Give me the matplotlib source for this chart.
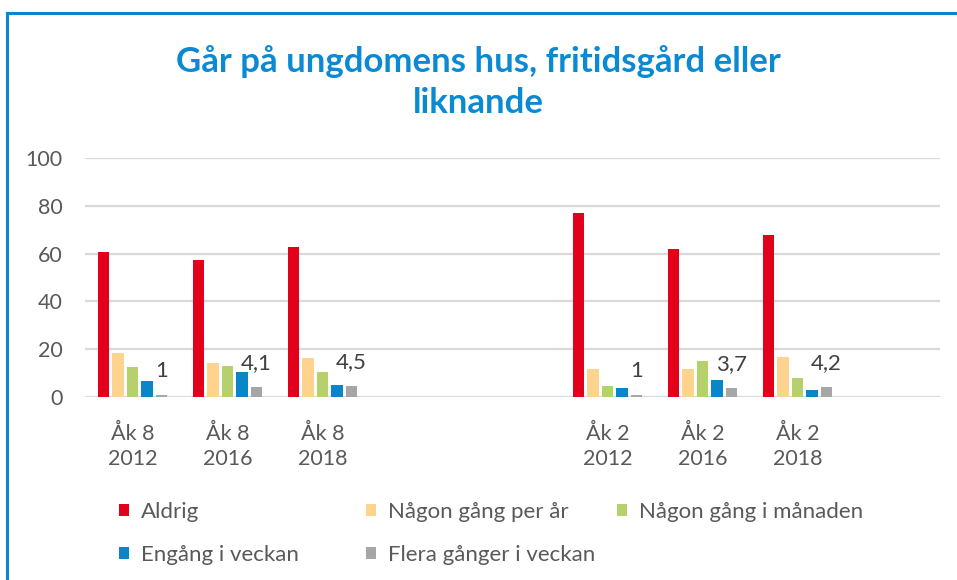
import matplotlib
matplotlib.use("Agg")
import matplotlib.pyplot as plt
import numpy as np
from matplotlib.patches import Patch
from matplotlib.lines import Line2D

plt.rcParams['font.family'] = ['Lato', 'DejaVu Sans']

# Categories (empty slots keep the gap between the two school years)
categories = ["Åk 8\n2012", "Åk 8\n2016", "Åk 8\n2018", "", "",
              "Åk 2\n2012", "Åk 2\n2016", "Åk 2\n2018", ""]

series_names = ["Aldrig", "Någon gång per år", "Någon gång i månaden",
                "Engång i veckan", "Flera gånger i veckan"]
series_colors = ["#E2001A", "#FDD38E", "#B6D16B", "#0A86C8", "#A6A6A6"]

nan = np.nan
aldrig = [60.5, 57.3, 62.9, nan, nan, 77, 61.9, 67.9, nan]
per_ar = [18.3, 14.1, 16.2, nan, nan, 11.7, 11.7, 16.6, nan]
manaden = [12.5, 13.1, 10.3, nan, nan, 4.8, 15.1, 7.9, nan]
engang = [6.5, 10.3, 4.9, nan, nan, 3.7, 7.3, 3.1, nan]
flera = [1, 4.1, 4.5, nan, nan, 1, 3.7, 4.2, nan]

values = [aldrig, per_ar, manaden, engang, flera]

text_gray = "#595959"
grid_gray = "#D9D9D9"
title_blue = "#0A8AD2"

fig = plt.figure(figsize=(9.57, 5.8), dpi=100)
ax = fig.add_axes([85 / 957, 1 - 397 / 580, 855 / 957, 239 / 580])

x = np.arange(len(categories))
bar_w = 0.123
step = 0.153
for i, (vals, color) in enumerate(zip(values, series_colors)):
    ax.bar(x + (i - 2) * step, vals, width=bar_w, color=color, zorder=3)

# data labels on the last series only
for xi, v in zip(x, flera):
    if np.isnan(v):
        continue
    txt = f"{v:g}".replace(".", ",")
    ax.annotate(txt, (xi + 2 * step, v), xytext=(0, 13), textcoords="offset points",
                ha="center", va="baseline", fontsize=16, color="#404040")

ax.set_xlim(-0.5, len(categories) - 0.5)
ax.set_ylim(0, 100)
ax.set_yticks(np.arange(0, 101, 20))
ax.set_xticks(x)
ax.set_xticklabels(categories, linespacing=1.35)
ax.tick_params(axis="x", length=0, pad=19, labelsize=15.5, labelcolor=text_gray)
ax.tick_params(axis="y", length=0, pad=16, labelsize=15.5, labelcolor=text_gray)
ax.grid(axis="y", color=grid_gray, linewidth=1.6, zorder=0)
for s in ax.spines.values():
    s.set_visible(False)

fig.text(0.5, 1 - 82 / 580, "Går på ungdomens hus, fritidsgård eller\nliknande",
         ha="center", va="center", fontsize=25, fontweight="bold",
         color=title_blue, linespacing=1.36)

# legend: three columns placed at fixed positions, filled row-wise
handles = [Patch(facecolor=c, edgecolor="none") for c in series_colors]
col_x = [119, 366, 617]
columns = [[0, 3], [1, 4], [2]]
for cx, idx in zip(col_x, columns):
    leg = fig.legend([handles[k] for k in idx], [series_names[k] for k in idx],
                     loc="upper left", bbox_to_anchor=(cx / 957, 1 - 502 / 580),
                     frameon=False, fontsize=16, labelcolor=text_gray,
                     handlelength=0.45, handleheight=0.45, handletextpad=0.55,
                     labelspacing=1.05, borderaxespad=0, borderpad=0)

# blue frame on top and left
fig.add_artist(Line2D([7.5 / 957, 1], [1 - 12.5 / 580, 1 - 12.5 / 580],
                      color="#0A86D0", linewidth=2.2, transform=fig.transFigure))
fig.add_artist(Line2D([7.5 / 957, 7.5 / 957], [0, 1 - 12.5 / 580],
                      color="#0A86D0", linewidth=2.2, transform=fig.transFigure))

fig.savefig("out.png", dpi=100)
